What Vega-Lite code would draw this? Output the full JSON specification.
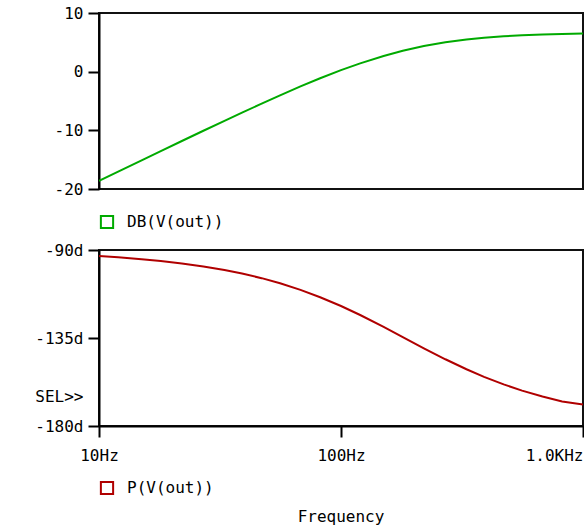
{
  "$schema": "https://vega.github.io/schema/vega-lite/v6.json",
  "background": "white",
  "padding": {"left": 33, "top": 4, "right": 0, "bottom": 0},
  "config": {
    "font": "DejaVu Sans Mono",
    "view": {"stroke": "#111", "strokeWidth": 2},
    "axis": {"labelFont": "DejaVu Sans Mono", "labelFontSize": 16, "labelColor": "#000", "domainColor": "#000", "domainWidth": 2, "tickColor": "#000", "tickWidth": 2, "tickSize": 11, "grid": false, "labelPadding": 5, "title": null},
    "legend": {"labelFont": "DejaVu Sans Mono", "labelFontSize": 16, "labelColor": "#000", "symbolType": "square", "symbolSize": 150, "symbolStrokeWidth": 2, "title": null, "orient": "bottom", "labelOffset": 12},
    "title": {"font": "DejaVu Sans Mono", "fontSize": 16, "fontWeight": "normal", "color": "#000"},
    "concat": {"spacing": 7}
  },
  "resolve": {"scale": {"color": "independent"}, "legend": {"color": "independent"}},
  "datasets": {
    "db": [
      {"f": 10, "v": -18.62, "s": "DB(V(out))"},
      {"f": 12, "v": -17.05, "s": "DB(V(out))"},
      {"f": 15, "v": -15.12, "s": "DB(V(out))"},
      {"f": 18, "v": -13.54, "s": "DB(V(out))"},
      {"f": 22, "v": -11.82, "s": "DB(V(out))"},
      {"f": 27, "v": -10.07, "s": "DB(V(out))"},
      {"f": 33, "v": -8.38, "s": "DB(V(out))"},
      {"f": 39, "v": -6.98, "s": "DB(V(out))"},
      {"f": 47, "v": -5.45, "s": "DB(V(out))"},
      {"f": 56, "v": -4.04, "s": "DB(V(out))"},
      {"f": 68, "v": -2.52, "s": "DB(V(out))"},
      {"f": 82, "v": -1.13, "s": "DB(V(out))"},
      {"f": 100, "v": 0.26, "s": "DB(V(out))"},
      {"f": 120, "v": 1.42, "s": "DB(V(out))"},
      {"f": 150, "v": 2.67, "s": "DB(V(out))"},
      {"f": 180, "v": 3.56, "s": "DB(V(out))"},
      {"f": 220, "v": 4.36, "s": "DB(V(out))"},
      {"f": 270, "v": 5.0, "s": "DB(V(out))"},
      {"f": 330, "v": 5.47, "s": "DB(V(out))"},
      {"f": 390, "v": 5.77, "s": "DB(V(out))"},
      {"f": 470, "v": 6.02, "s": "DB(V(out))"},
      {"f": 560, "v": 6.2, "s": "DB(V(out))"},
      {"f": 680, "v": 6.34, "s": "DB(V(out))"},
      {"f": 820, "v": 6.43, "s": "DB(V(out))"},
      {"f": 1000, "v": 6.5, "s": "DB(V(out))"}
    ],
    "ph": [
      {"f": 10, "v": -93.13, "s": "P(V(out))"},
      {"f": 12, "v": -93.75, "s": "P(V(out))"},
      {"f": 15, "v": -94.69, "s": "P(V(out))"},
      {"f": 18, "v": -95.62, "s": "P(V(out))"},
      {"f": 22, "v": -96.86, "s": "P(V(out))"},
      {"f": 27, "v": -98.39, "s": "P(V(out))"},
      {"f": 33, "v": -100.22, "s": "P(V(out))"},
      {"f": 39, "v": -102.03, "s": "P(V(out))"},
      {"f": 47, "v": -104.4, "s": "P(V(out))"},
      {"f": 56, "v": -107.01, "s": "P(V(out))"},
      {"f": 68, "v": -110.38, "s": "P(V(out))"},
      {"f": 82, "v": -114.14, "s": "P(V(out))"},
      {"f": 100, "v": -118.65, "s": "P(V(out))"},
      {"f": 120, "v": -123.25, "s": "P(V(out))"},
      {"f": 150, "v": -129.34, "s": "P(V(out))"},
      {"f": 180, "v": -134.53, "s": "P(V(out))"},
      {"f": 220, "v": -140.25, "s": "P(V(out))"},
      {"f": 270, "v": -145.88, "s": "P(V(out))"},
      {"f": 330, "v": -150.99, "s": "P(V(out))"},
      {"f": 390, "v": -154.86, "s": "P(V(out))"},
      {"f": 470, "v": -158.73, "s": "P(V(out))"},
      {"f": 560, "v": -161.9, "s": "P(V(out))"},
      {"f": 680, "v": -164.94, "s": "P(V(out))"},
      {"f": 820, "v": -167.42, "s": "P(V(out))"},
      {"f": 1000, "v": -169.0, "s": "P(V(out))"}
    ]
  },
  "vconcat": [
    {
      "width": 484,
      "height": 176,
      "data": {"name": "db"},
      "mark": {"type": "line", "strokeWidth": 2, "clip": true},
      "encoding": {
        "x": {"field": "f", "type": "quantitative", "scale": {"type": "log", "domain": [10, 1000]}, "axis": null},
        "y": {"field": "v", "type": "quantitative", "scale": {"domain": [-20, 10], "nice": false}, "axis": {"values": [10, 0, -10, -20], "labelExpr": "'' + datum.value"}},
        "color": {"field": "s", "type": "nominal", "scale": {"range": ["#00aa00"]}, "legend": {"offset": 25}}
      }
    },
    {
      "width": 484,
      "height": 176,
      "data": {"name": "ph"},
      "title": {"text": "Frequency", "orient": "bottom", "anchor": "middle", "frame": "group", "offset": 10},
      "mark": {"type": "line", "strokeWidth": 2, "clip": true},
      "encoding": {
        "x": {"field": "f", "type": "quantitative", "scale": {"type": "log", "domain": [10, 1000]}, "axis": {"values": [10, 100, 1000], "labelPadding": 10, "labelExpr": "datum.value == 10 ? '10Hz' : datum.value == 100 ? '100Hz' : '1.0KHz'", "labelAlign": {"condition": {"test": "datum.value == 1000", "value": "right"}, "value": "center"}}},
        "y": {"field": "v", "type": "quantitative", "scale": {"domain": [-180, -90], "nice": false}, "axis": {"values": [-90, -135, -165, -180], "labelExpr": "datum.value == -165 ? 'SEL>>' : datum.value + 'd'", "tickOpacity": {"condition": {"test": "datum.value == -165", "value": 0}, "value": 1}}},
        "color": {"field": "s", "type": "nominal", "scale": {"range": ["#b00000"]}, "legend": {"offset": 17}}
      }
    }
  ]
}
